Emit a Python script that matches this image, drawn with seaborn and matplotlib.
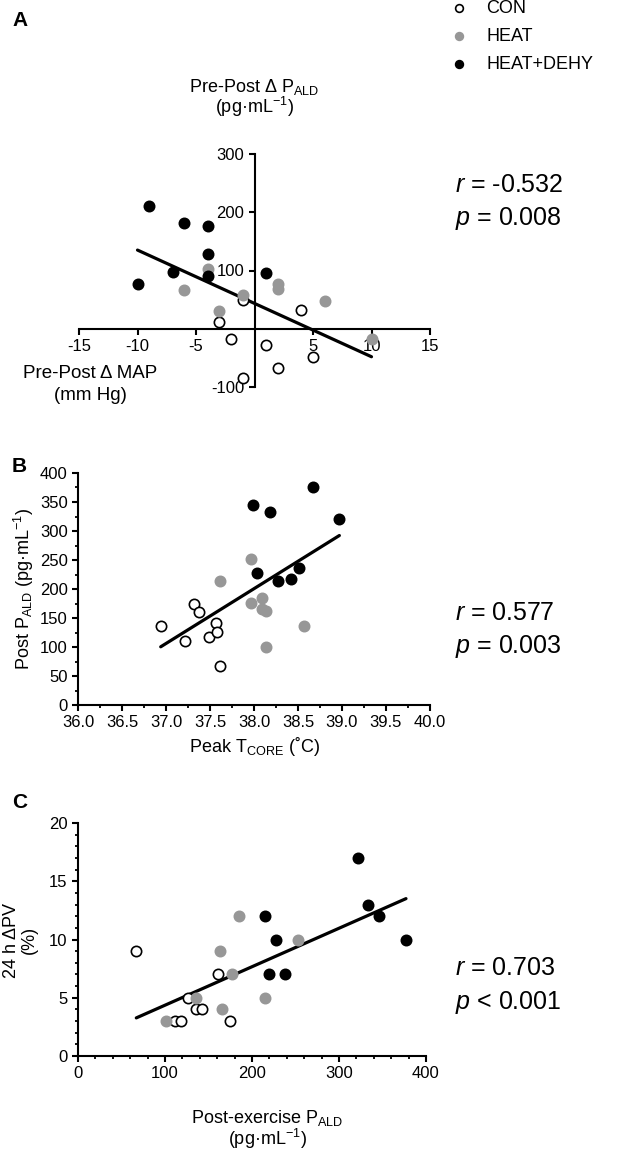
import numpy as np
import pandas as pd
import matplotlib.pyplot as plt
from matplotlib.ticker import MultipleLocator
import seaborn as sns

# Panel A: pre-post change in MAP vs pre-post change in aldosterone
a_group = ["CON"] * 8 + ["HEAT"] * 8 + ["HEAT+DEHY"] * 8
a_map = [-3, -2, -1, -1, 1, 2, 4, 5,
         -4, -6, -3, -1, 2, 2, 6, 10,
         -9, -6, -4, -4, -4, -7, -10, 1]
a_ald = [11, -17, 49, -84, -28, -68, 33, -48,
         103, 66, 31, 58, 77, 68, 47, -18,
         211, 181, 177, 128, 90, 97, 77, 96]

# Panel B: peak core temperature vs post aldosterone
b_group = ["CON"] * 8 + ["HEAT"] * 8 + ["HEAT+DEHY"] * 8
b_tcore = [36.94, 37.22, 37.32, 37.37, 37.49, 37.57, 37.58, 37.61,
           37.61, 37.97, 37.97, 38.09, 38.09, 38.14, 38.14, 38.57,
           37.99, 38.18, 38.67, 38.97, 38.03, 38.27, 38.42, 38.51]
b_ald = [137, 111, 174, 160, 118, 142, 126, 67,
         214, 252, 176, 184, 165, 162, 100, 136,
         344, 332, 376, 321, 227, 213, 218, 237]

# Panel C: post-exercise aldosterone vs 24 h change in plasma volume
c_group = ["CON"] * 8 + ["HEAT"] * 8 + ["HEAT+DEHY"] * 8
c_ald = [67, 112, 118, 127, 136, 143, 161, 175,
         101, 136, 163, 165, 177, 185, 215, 253,
         215, 228, 219, 238, 322, 333, 346, 377]
c_pv = [9, 3, 3, 5, 4, 4, 7, 3,
        3, 5, 9, 4, 7, 12, 5, 10,
        12, 10, 7, 7, 17, 13, 12, 10]

stats_a = ["$r$ = -0.532", "$p$ = 0.008"]
stats_b = ["$r$ = 0.577", "$p$ = 0.003"]
stats_c = ["$r$ = 0.703", "$p$ < 0.001"]

groups = ["CON", "HEAT", "HEAT+DEHY"]
face = {"CON": "white", "HEAT": "#979797", "HEAT+DEHY": "black"}
edge = {"CON": "black", "HEAT": "#979797", "HEAT+DEHY": "black"}

sns.set_style("ticks")
plt.rcParams["font.family"] = ["Liberation Sans", "DejaVu Sans"]
plt.rcParams["mathtext.fontset"] = "custom"
plt.rcParams["mathtext.rm"] = "Liberation Sans"
plt.rcParams["mathtext.it"] = "Liberation Sans:italic"
plt.rcParams["axes.unicode_minus"] = False
for key in ["text.color", "axes.labelcolor", "xtick.color", "ytick.color", "axes.edgecolor"]:
    plt.rcParams[key] = "black"
plt.rcParams["axes.linewidth"] = 1.5
plt.rcParams["xtick.major.width"] = 1.5
plt.rcParams["ytick.major.width"] = 1.5
plt.rcParams["xtick.minor.width"] = 1.3
plt.rcParams["ytick.minor.width"] = 1.3
plt.rcParams["xtick.major.size"] = 4
plt.rcParams["ytick.major.size"] = 4
plt.rcParams["xtick.minor.size"] = 2.5
plt.rcParams["ytick.minor.size"] = 2.5

W, H = 642, 1152
fig = plt.figure(figsize=(W / 100, H / 100), dpi=100)


def px(x, y):
    return x / W, 1 - y / H


def box(x0, y0, x1, y1):
    return [x0 / W, 1 - y1 / H, (x1 - x0) / W, (y1 - y0) / H]


def draw(ax, df, x, y):
    for g in groups:
        sub = df[df["group"] == g]
        sns.scatterplot(data=sub, x=x, y=y, ax=ax, color=face[g],
                        edgecolor=edge[g], linewidth=1.2, s=55,
                        label=g, zorder=3, clip_on=False)
    sns.regplot(data=df, x=x, y=y, ax=ax, scatter=False, ci=None,
                truncate=True, color="black", line_kws={"lw": 2.3, "zorder": 2})
    ax.set_xlabel("")
    ax.set_ylabel("")


# ---- Panel A ----
dfa = pd.DataFrame({"group": a_group, "map": a_map, "ald": a_ald})
axA = fig.add_axes(box(79, 154, 430, 387))
draw(axA, dfa, "map", "ald")
handles, labels = axA.get_legend_handles_labels()
axA.get_legend().remove()
axA.set_xlim(-15, 15)
axA.set_ylim(-100, 300)
axA.spines["left"].set_position(("data", 0))
axA.spines["bottom"].set_position(("data", 0))
axA.spines["top"].set_visible(False)
axA.spines["right"].set_visible(False)
axA.set_xticks([-15, -10, -5, 5, 10, 15])
axA.set_yticks([-100, 100, 200, 300])
axA.tick_params(labelsize=12)

fig.text(*px(254, 87), "Pre-Post Δ P$_{\\mathrm{ALD}}$", ha="center", va="center", fontsize=13)
fig.text(*px(254, 107), "(pg·mL$^{\\mathrm{-1}}$)", ha="center", va="center", fontsize=13)
fig.text(*px(90, 373), "Pre-Post Δ MAP", ha="center", va="center", fontsize=13.5)
fig.text(*px(90, 395), "(mm Hg)", ha="center", va="center", fontsize=13.5)

# ---- Panel B ----
dfb = pd.DataFrame({"group": b_group, "tcore": b_tcore, "ald": b_ald})
axB = fig.add_axes(box(78, 473, 430, 705))
draw(axB, dfb, "tcore", "ald")
axB.get_legend().remove()
axB.set_xlim(36, 40)
axB.set_ylim(0, 400)
sns.despine(ax=axB)
axB.xaxis.set_major_locator(MultipleLocator(0.5))
axB.xaxis.set_minor_locator(MultipleLocator(0.25))
axB.yaxis.set_major_locator(MultipleLocator(50))
axB.yaxis.set_minor_locator(MultipleLocator(25))
axB.set_xticklabels([f"{v:.1f}" for v in axB.get_xticks()])
axB.tick_params(labelsize=12)
axB.set_ylabel("Post P$_{\\mathrm{ALD}}$ (pg·mL$^{\\mathrm{-1}}$)", fontsize=13, labelpad=3)
axB.set_xlabel("Peak T$_{\\mathrm{CORE}}$ (˚C)", fontsize=13, labelpad=3)

# ---- Panel C ----
dfc = pd.DataFrame({"group": c_group, "ald": c_ald, "pv": c_pv})
axC = fig.add_axes(box(78, 823, 426, 1056))
draw(axC, dfc, "ald", "pv")
axC.get_legend().remove()
axC.set_xlim(0, 400)
axC.set_ylim(0, 20)
sns.despine(ax=axC)
axC.xaxis.set_major_locator(MultipleLocator(100))
axC.xaxis.set_minor_locator(MultipleLocator(20))
axC.yaxis.set_major_locator(MultipleLocator(5))
axC.yaxis.set_minor_locator(MultipleLocator(1))
axC.tick_params(labelsize=12)
fig.text(*px(267, 1118), "Post-exercise P$_{\\mathrm{ALD}}$", ha="center", va="center", fontsize=13)
fig.text(*px(267, 1139), "(pg·mL$^{\\mathrm{-1}}$)", ha="center", va="center", fontsize=13)
fig.text(*px(12, 940), "24 h ΔPV", ha="center", va="center", rotation=90, fontsize=13)
fig.text(*px(29, 940), "(%)", ha="center", va="center", rotation=90, fontsize=13)

# stats text
for lines, y0 in [(stats_a, 185), (stats_b, 613), (stats_c, 968)]:
    fig.text(*px(455, y0), lines[0], ha="left", va="center", fontsize=18)
    fig.text(*px(455, y0 + 34), lines[1], ha="left", va="center", fontsize=18)

# panel letters
for letter, y0 in [("A", 20), ("B", 466), ("C", 803)]:
    fig.text(*px(12, y0), letter, ha="left", va="center", fontsize=15, fontweight="bold")

# legend
fig.legend(handles, labels, loc="upper left", bbox_to_anchor=(441 / W, 1.0),
           frameon=False, fontsize=13, markerscale=0.75, borderpad=0,
           borderaxespad=0, handletextpad=0.5, labelspacing=0.6)

fig.savefig("out.png", dpi=100)
plt.close(fig)
